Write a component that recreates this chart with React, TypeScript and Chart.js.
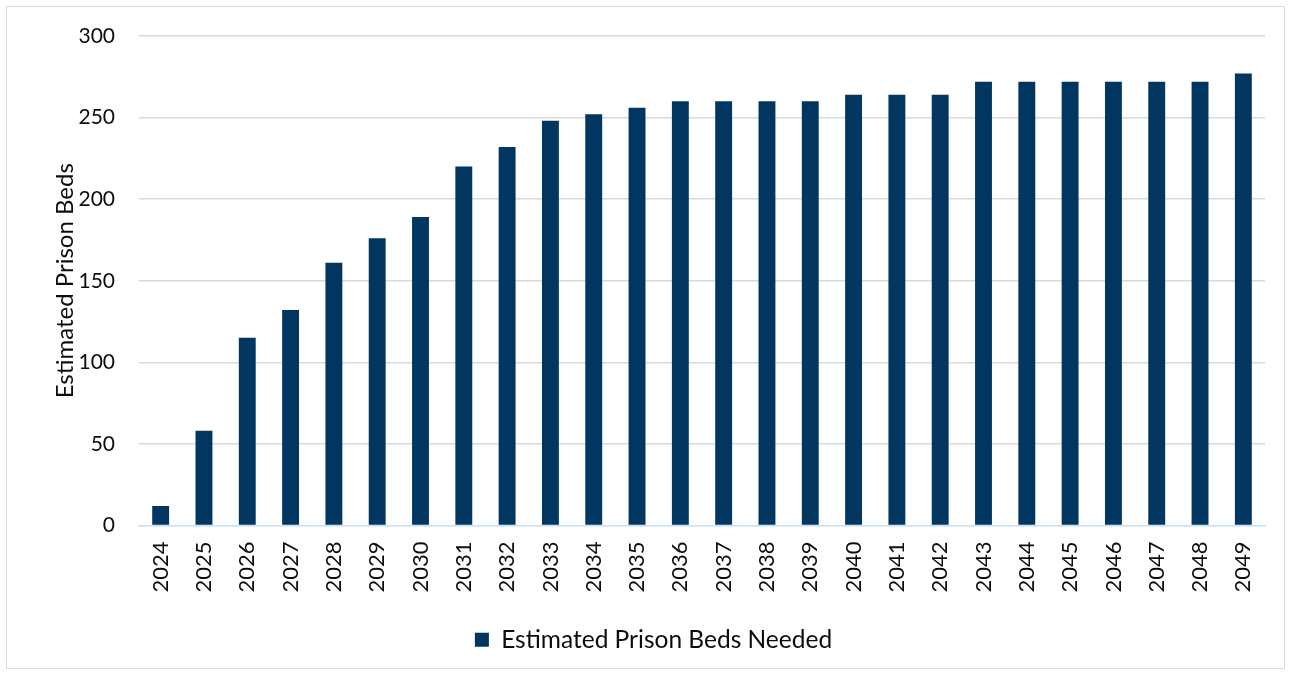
import React, { useEffect, useRef } from "react";
import { Chart, registerables } from "chart.js";

Chart.register(...registerables);

const years = [
  "2024", "2025", "2026", "2027", "2028", "2029", "2030", "2031", "2032",
  "2033", "2034", "2035", "2036", "2037", "2038", "2039", "2040", "2041",
  "2042", "2043", "2044", "2045", "2046", "2047", "2048", "2049",
];

const bedsNeeded = [
  12, 58, 115, 132, 161, 176, 189, 220, 232,
  248, 252, 256, 260, 260, 260, 260, 264, 264,
  264, 272, 272, 272, 272, 272, 272, 277,
];

const seriesLabel = "Estimated Prison Beds Needed";
const yAxisTitle = "Estimated Prison Beds";
const yMin = 0;
const yMax = 300;
const yStep = 50;

const FONT = "Lato, 'Open Sans', sans-serif";
const TEXT = "#0d0d0d";

export default function App() {
  const canvasRef = useRef<HTMLCanvasElement | null>(null);

  useEffect(() => {
    if (!canvasRef.current) return;
    const chart = new Chart(canvasRef.current, {
      type: "bar",
      data: {
        labels: years,
        datasets: [
          {
            label: seriesLabel,
            data: bedsNeeded,
            backgroundColor: "#00365f",
            borderWidth: 0,
            barPercentage: 0.39,
            categoryPercentage: 1,
          },
        ],
      },
      options: {
        animation: false,
        responsive: true,
        maintainAspectRatio: false,
        layout: { padding: { top: 29, left: 35, right: 19, bottom: 6 } },
        plugins: {
          tooltip: { enabled: false },
          legend: {
            position: "bottom",
            labels: {
              boxWidth: 14,
              boxHeight: 14,
              padding: 10,
              color: TEXT,
              font: { family: FONT, size: 24.5 },
            },
          },
        },
        scales: {
          x: {
            grid: { display: false, drawTicks: false },
            border: { display: true, color: "#c6def5", width: 1.5 },
            ticks: {
              color: TEXT,
              font: { family: FONT, size: 22 },
              minRotation: 90,
              maxRotation: 90,
              autoSkip: false,
              padding: 16,
            },
            afterFit: (scale: any) => {
              scale.height = 92;
              scale.paddingLeft = 0;
              scale.paddingRight = 0;
              scale.paddingTop = 0;
              scale.paddingBottom = 0;
            },
          },
          y: {
            min: yMin,
            max: yMax,
            grid: {
              drawTicks: false,
              color: (ctx: any) => (ctx.tick && ctx.tick.value === 0 ? "rgba(0,0,0,0)" : "#d9d9d9"),
              lineWidth: 1.5,
            },
            border: { display: false },
            ticks: {
              stepSize: yStep,
              color: TEXT,
              font: { family: FONT, size: 21 },
              padding: 24,
            },
            title: {
              display: true,
              text: yAxisTitle,
              color: TEXT,
              font: { family: FONT, size: 24 },
              padding: { top: 9, bottom: 0 },
            },
            afterFit: (scale: any) => {
              scale.width = 97;
              scale.paddingTop = 0;
              scale.paddingBottom = 0;
              scale.paddingLeft = 0;
              scale.paddingRight = 0;
            },
          },
        },
      },
    });
    return () => chart.destroy();
  }, []);

  return (
    <div
      style={{
        position: "absolute",
        left: 6,
        top: 6,
        width: 1279,
        height: 663,
        border: "1px solid #d9d9d9",
        boxSizing: "border-box",
        background: "#fff",
      }}
    >
      <canvas ref={canvasRef} />
    </div>
  );
}
